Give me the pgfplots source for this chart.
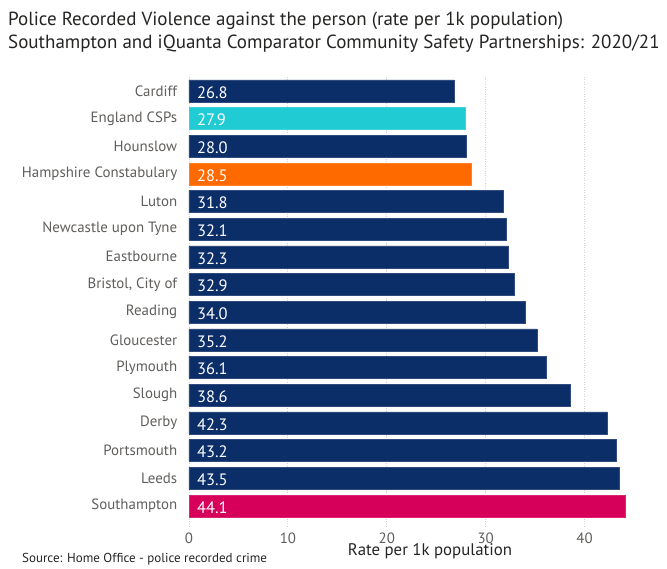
\documentclass[border=0pt]{standalone}
\usepackage{pgfplots}
\pgfplotsset{compat=1.18}
\usepackage{pgfplotstable}
\usepackage{fontspec}
\setmainfont{PT Sans}
\definecolor{navy}{HTML}{0B2D68}
\definecolor{cyanb}{HTML}{20CBD4}
\definecolor{orangeb}{HTML}{FF6A00}
\definecolor{magb}{HTML}{D6005A}
\definecolor{titlec}{HTML}{252423}
\definecolor{labc}{HTML}{605E5C}
\pgfplotstableread{
pos val
0 26.8
2 28.0
4 31.8
5 32.1
6 32.3
7 32.9
8 34.0
9 35.2
10 36.1
11 38.6
12 42.3
13 43.2
14 43.5
}\navydata
\pgfplotstableread{
pos val
1 27.9
}\cyandata
\pgfplotstableread{
pos val
3 28.5
}\orangedata
\pgfplotstableread{
pos val
15 44.1
}\magdata
\pgfplotsset{vlabel/.style={draw=none, fill=none, mark=none, forget plot,
  nodes near coords={\pgfmathprintnumber[fixed,zerofill,precision=1]{\pgfplotspointmeta}}, point meta=explicit,
  every node near coord/.style={anchor=west, inner sep=0pt, xshift=8pt, yshift=-1.5pt, text=white, font=\fontsize{16.5}{18}\selectfont}}}
\begin{document}
\begin{tikzpicture}
\useasboundingbox (0,0) rectangle (667pt,-568pt);
\node[anchor=west, font=\fontsize{19}{21}\selectfont, text=titlec, inner sep=0] at (8pt,-21pt) {Police Recorded Violence against the person (rate per 1k population)};
\node[anchor=west, font=\fontsize{19}{21}\selectfont, text=titlec, inner sep=0] at (8pt,-44pt) {Southampton and iQuanta Comparator Community Safety Partnerships: 2020/21};
\begin{axis}[
  at={(189pt,-528pt)}, anchor=south west,
  scale only axis, width=440pt, height=451pt,
  xmin=0, xmax=44.5, ymin=-0.5, ymax=15.8, y dir=reverse,
  axis line style={draw=none},
  xbar, bar width=0.8, bar shift=0pt,
  xtick={0,10,20,30,40}, ytick={0,...,15},
  yticklabels={Cardiff,England CSPs,Hounslow,Hampshire Constabulary,Luton,Newcastle upon Tyne,Eastbourne,{Bristol, City of},Reading,Gloucester,Plymouth,Slough,Derby,Portsmouth,Leeds,Southampton},
  xmajorgrids, major grid style={dotted, gray!35, line width=0.9pt},
  tick style={draw=none},
  /pgf/number format/assume math mode=true,
  ticklabel style={text=labc, font=\fontsize{14.9}{17}\selectfont},
  yticklabel style={xshift=-4pt},
  xticklabel style={yshift=-4pt, inner sep=1pt},
  xlabel={Rate per 1k population}, xlabel style={font=\fontsize{16.8}{18}\selectfont, text=titlec, xshift=21pt, yshift=3pt, inner sep=1pt},
  clip=false,
]
\addplot[fill=navy, draw=navy!85!white] table[x=val,y=pos] {\navydata};
\addplot[fill=cyanb, draw=cyanb!85!white] table[x=val,y=pos] {\cyandata};
\addplot[fill=orangeb, draw=orangeb!85!white] table[x=val,y=pos] {\orangedata};
\addplot[fill=magb, draw=magb!85!white] table[x=val,y=pos] {\magdata};
\addplot[vlabel] table[x expr=0, y=pos, meta=val] {\navydata};
\addplot[vlabel] table[x expr=0, y=pos, meta=val] {\cyandata};
\addplot[vlabel] table[x expr=0, y=pos, meta=val] {\orangedata};
\addplot[vlabel] table[x expr=0, y=pos, meta=val] {\magdata};
\end{axis}
\node[anchor=west, font=\fontsize{13}{14}\selectfont, text=titlec, inner sep=0] at (22pt,-559pt) {Source: Home Office - police recorded crime};
\end{tikzpicture}
\end{document}
